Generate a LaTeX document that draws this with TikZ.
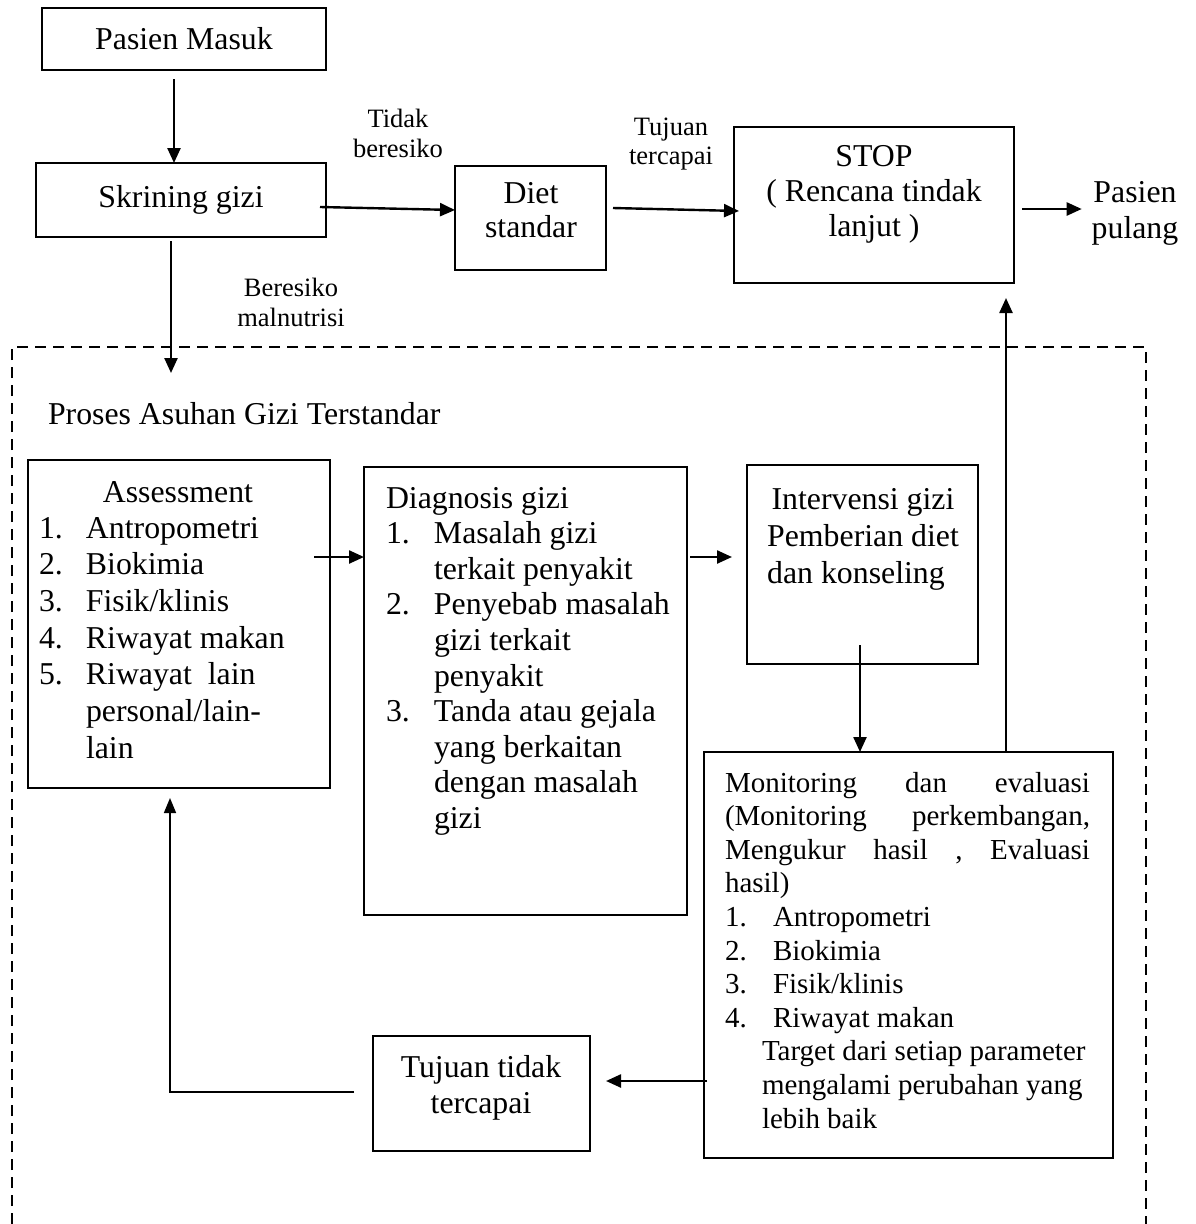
\documentclass[tikz,border=0pt]{standalone}
\usepackage{fontspec}
\setmainfont{Liberation Serif}
\usetikzlibrary{arrows.meta}
\newcommand\myfs[2]{\fontsize{#1}{#2}\selectfont}
\begin{document}
\begin{tikzpicture}[x=1pt,y=-1pt,
  box/.style={draw, line width=2.4pt, inner sep=0pt, outer sep=0pt},
  txt/.style={inner sep=0pt, outer sep=0pt},
  arr/.style={line width=2.4pt, -{Triangle[length=15pt,width=13pt]}},
  thinarr/.style={line width=1.6pt, -{Triangle[length=15pt,width=12pt]}},
  big/.style={font=\myfs{31.8}{36}},
  frame/.style={line width=2pt, dash pattern=on 11pt off 7pt}
]
\useasboundingbox (0,0) rectangle (1195,1224);

% boxes
\node[box, big, minimum width=284pt, minimum height=62pt] (pm) at (184,39) {Pasien Masuk};
\node[box, big, minimum width=290pt, minimum height=74pt] (skr) at (181,200) {Skrining gizi};
\node[box, minimum width=151pt, minimum height=104pt] (diet) at (530.5,218) {};
\node[box, minimum width=280pt, minimum height=156pt] (stop) at (874,205) {};
\node[box, minimum width=302pt, minimum height=328pt] (asm) at (179,624) {};
\node[box, minimum width=323pt, minimum height=448pt] (diag) at (525.5,691) {};
\node[box, minimum width=231pt, minimum height=199pt] (intv) at (862.5,564.5) {};
\node[box, minimum width=409pt, minimum height=406pt] (mon) at (908.5,955) {};
\node[box, minimum width=217pt, minimum height=115pt] (tuj) at (481.5,1093.5) {};

% dashed frame
\draw[frame] (12,1224) -- (12,347) -- (1146,347) -- (1146,1224);

% texts
\node[txt, font=\myfs{31.8}{34}, anchor=base] (diett) at (531,203)
  {\begin{tabular}[t]{@{}c@{}}Diet\\standar\end{tabular}};
\node[txt, font=\myfs{31.8}{35}, anchor=base] (stopt) at (874,166)
  {\begin{tabular}[t]{@{}c@{}}STOP\\( Rencana tindak\\lanjut )\end{tabular}};
\node[txt, font=\myfs{31.8}{36}, anchor=base] (pp) at (1135,202)
  {\begin{tabular}[t]{@{}c@{}}Pasien\\pulang\end{tabular}};
\node[txt, font=\myfs{26.5}{30}, anchor=base] (lbl1) at (398,127)
  {\begin{tabular}[t]{@{}c@{}}Tidak\\beresiko\end{tabular}};
\node[txt, font=\myfs{26.5}{29.5}, anchor=base] (lbl2) at (671,135)
  {\begin{tabular}[t]{@{}c@{}}Tujuan\\tercapai\end{tabular}};
\node[txt, font=\myfs{26.5}{30}, anchor=base] (lbl3) at (291,296)
  {\begin{tabular}[t]{@{}c@{}}Beresiko\\malnutrisi\end{tabular}};
\node[txt, big, anchor=base west] (pagt) at (48,424) {Proses Asuhan Gizi Terstandar};

\node[txt, big, anchor=base] (asmt) at (178,502) {Assessment};
\node[txt, font=\myfs{31.8}{36.7}, anchor=base west] (asml) at (39,538)
  {\begin{tabular}[t]{@{}p{47pt}@{}l@{}}
   1.& Antropometri\\
   2.& Biokimia\\
   3.& Fisik/klinis\\
   4.& Riwayat makan\\
   5.& Riwayat~~lain\\
     & personal/lain-\\
     & lain
   \end{tabular}};

\node[txt, font=\myfs{31.8}{35.6}, anchor=base west] (diagt) at (386,508)
  {\begin{tabular}[t]{@{}p{48pt}@{}l@{}}
   \multicolumn{2}{@{}l@{}}{Diagnosis gizi}\\
   1.& Masalah gizi\\
     & terkait penyakit\\
   2.& Penyebab masalah\\
     & gizi terkait\\
     & penyakit\\
   3.& Tanda atau gejala\\
     & yang berkaitan\\
     & dengan masalah\\
     & gizi
   \end{tabular}};

\node[txt, font=\myfs{31.8}{37}, anchor=base] (intvt) at (863,509)
  {\begin{tabular}[t]{@{}c@{}}Intervensi gizi\\Pemberian diet\\\rlap{dan konseling}\phantom{Pemberian diet}\end{tabular}};

\node[txt, font=\myfs{29}{33.6}, anchor=base west] (mont) at (725,792)
  {\begin{tabular}[t]{@{}l@{}}
   \hbox to 365pt{Monitoring\hfill dan\hfill evaluasi}\\
   \hbox to 365pt{(Monitoring\hfill perkembangan,}\\
   \hbox to 365pt{Mengukur\hfill hasil\hfill ,\hfill Evaluasi}\\
   hasil)\\
   \makebox[48pt][l]{1.}Antropometri\\
   \makebox[48pt][l]{2.}Biokimia\\
   \makebox[48pt][l]{3.}Fisik/klinis\\
   \makebox[48pt][l]{4.}Riwayat makan\\
   \hspace*{37pt}Target dari setiap parameter\\
   \hspace*{37pt}mengalami perubahan yang\\
   \hspace*{37pt}lebih baik
   \end{tabular}};

\node[txt, font=\myfs{31.8}{36}, anchor=base] (tujt) at (481,1077)
  {\begin{tabular}[t]{@{}c@{}}Tujuan tidak\\tercapai\end{tabular}};

% helper coordinates
\coordinate (pagtin) at (171,373);
\path ([xshift=-10pt]pp.west) coordinate (ppin);
\path ([xshift=-15pt]intv.west) coordinate (iw);
\path ([yshift=-15pt]stop.south) coordinate (sb);
\path ([xshift=16pt]tuj.east) coordinate (te);

% connectors
\draw[arr] ([xshift=-10pt,yshift=-9pt]pm.south) -- ([xshift=-10pt]pm.south |- skr.north);
\draw[arr] ([xshift=-6pt,yshift=-7pt]skr.east) -- ([yshift=8pt]diet.west);
\draw[arr] ([xshift=7pt,yshift=10pt]diet.east) -- ([xshift=5pt,yshift=-6pt]stop.west);
\draw[arr] ([xshift=8pt,yshift=-4pt]stop.east) coordinate (s1) -- (s1 -| ppin);
\draw[arr] ([xshift=-10pt,yshift=-4pt]skr.south) -- (pagtin);
\draw[arr] ([xshift=-16pt,yshift=67pt]asm.east) coordinate (s3) -- (s3 -| diag.west);
\draw[arr] ([xshift=3pt,yshift=134pt]diag.east) coordinate (s4) -- (s4 -| iw);
\draw[arr] ([xshift=-2.5pt,yshift=19pt]intv.south) coordinate (s5) -- (s5 |- mon.north);
\draw[arr] ([xshift=97.5pt]mon.north) coordinate (s6) -- (s6 |- sb);
\draw[arr] ([xshift=3pt,yshift=-126pt]mon.west) coordinate (s7) -- (s7 -| te);
\draw[thinarr] ([xshift=-19pt,yshift=1.5pt]tuj.west) -| ([xshift=-9pt,yshift=-10pt]asm.south);
\end{tikzpicture}
\end{document}
